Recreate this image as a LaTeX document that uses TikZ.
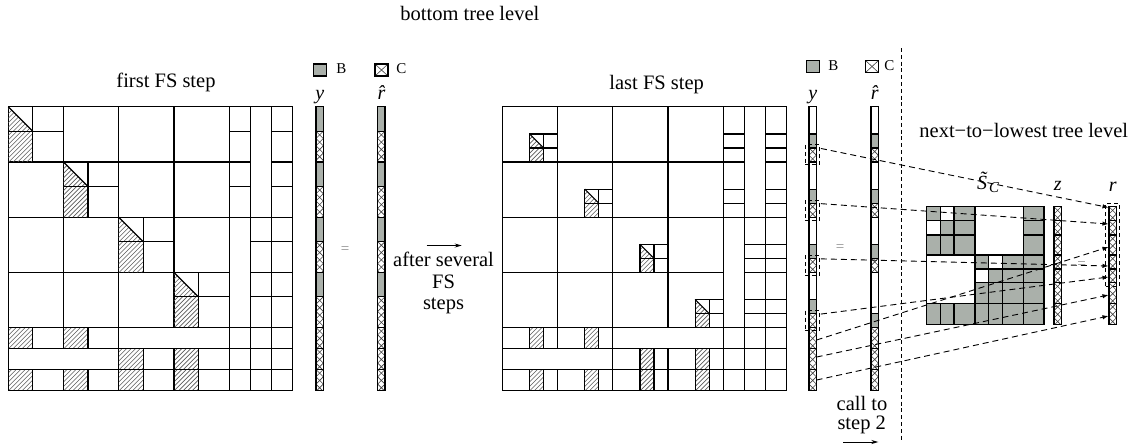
\documentclass[tikz,border=0pt]{standalone}
\usepackage{fontspec}
\setmainfont{Liberation Serif}
\usetikzlibrary{calc,arrows.meta}
\definecolor{bgray}{RGB}{170,176,170}
\tikzset{
  ml/.style={line width=0.6pt},
  hl/.style={line width=0.3pt, black!65},
  xl/.style={line width=0.3pt, black!75},
  dbox/.style={draw, dash pattern=on 2pt off 1.5pt, line width=0.45pt, inner sep=0pt, minimum width=7.25pt, minimum height=10pt},
  darr/.style={dash pattern=on 3pt off 2pt, line width=0.45pt, -{Latex[length=3pt,width=2.2pt]}},
  lbl/.style={inner sep=0pt, font=\fontsize{10.25}{12}\selectfont},
  mlbl/.style={inner sep=0pt, font=\fontsize{10}{12}\selectfont\itshape},
  lgd/.style={inner sep=0pt, font=\fontsize{7.5}{8}\selectfont},
  eqs/.style={inner sep=0pt, text=black!45, font=\fontsize{7.5}{8}\selectfont},
  plainarr/.style={line width=0.45pt, -{Stealth[length=3.5pt,width=2pt]}},
  vdash/.style={dash pattern=on 2pt off 1.4pt, line width=0.5pt},
}
\newcommand{\hatchbox}[4]{%
  \begin{scope}
    \clip ({#1},{#2}) rectangle ({#3},{#4});
    \foreach \hv in {0,4.5,...,81}
      \draw[hl] ({#1-40+\hv},{#4}) -- ++(40,-40);
  \end{scope}}
\newcommand{\hatchtri}[4]{%
  \begin{scope}
    \clip ({#1},{#2}) -- ({#3},{#4}) -- ({#1},{#4}) -- cycle;
    \foreach \hv in {0,4.5,...,81}
      \draw[hl] ({#1-40+\hv},{#4}) -- ++(40,-40);
  \end{scope}
  \draw[ml] ({#1},{#2}) -- ({#3},{#4});}
\newcommand{\vw}[3]{\draw[ml] ({#1},{#2}) rectangle ({#1+7.3},{#3});}
\newcommand{\vg}[3]{\filldraw[ml,fill=bgray] ({#1},{#2}) rectangle ({#1+7.3},{#3});}
\newcommand{\vx}[3]{%
  \begin{scope}
    \clip ({#1},{#2}) rectangle ({#1+7.3},{#3});
    \foreach \hv in {0,...,6}
      \draw[xl] ({#1},{#2+\hv*7.3}) -- ++(7.3,7.3) ({#1+7.3},{#2+\hv*7.3}) -- ++(-7.3,7.3);
  \end{scope}
  \draw[ml] ({#1},{#2}) rectangle ({#1+7.3},{#3});}
\newcommand{\leftvec}[1]{%
  \foreach \kk in {0,...,3}{
    \vg{#1}{106.7+\kk*55.2}{106.7+\kk*55.2+24.5}
    \vx{#1}{106.7+\kk*55.2+24.5}{106.7+(\kk+1)*55.2}
  }
  \foreach \kk in {0,1,2}{\vx{#1}{327.5+\kk*21}{327.5+(\kk+1)*21}}}
\newcommand{\sepvec}[1]{%
  \foreach \kk in {0,1,2}{\vx{#1}{327.5+\kk*21}{327.5+(\kk+1)*21}}}
\newcommand{\legC}[2]{%
  \draw[xl] ({#1},{#2}) -- ({#1+13},{#2+12}) ({#1+13},{#2}) -- ({#1},{#2+12});
  \draw[ml] ({#1},{#2}) rectangle ({#1+13},{#2+12});}
\def\bs{55.2}
\def\ss{21}
\def\bb{24.5}
\begin{document}
\begin{tikzpicture}[x=0.5pt,y=-0.5pt]
\useasboundingbox (0,0) rectangle (1139,446);

%% ---------------- left matrix (first FS step)
\begin{scope}[shift={(8.3,106.7)}]
  \foreach \ii in {0,...,3} \foreach \jj in {0,...,3}
    \draw[ml] ({\jj*\bs},{\ii*\bs}) rectangle ++(\bs,\bs);
  \foreach \kk in {0,...,3}{
    \hatchtri{\kk*\bs}{\kk*\bs}{\kk*\bs+\bb}{\kk*\bs+\bb}
    \hatchbox{\kk*\bs}{\kk*\bs+\bb}{\kk*\bs+\bb}{(\kk+1)*\bs}
    \draw[ml] ({\kk*\bs+\bb},{\kk*\bs}) -- ++(0,\bs);
    \draw[ml] ({\kk*\bs},{\kk*\bs+\bb}) -- ++(\bs,0);
  }
  \foreach \cc/\ii in {0/0,0/1,1/2,1/3,2/0,2/1,2/2,2/3}{
    \draw[ml] ({4*\bs+\cc*\ss},{\ii*\bs}) rectangle ++(\ss,\bb);
    \draw[ml] ({4*\bs+\cc*\ss},{\ii*\bs+\bb}) rectangle ({4*\bs+(\cc+1)*\ss},{(\ii+1)*\bs});
  }
  \draw[ml] ({4*\bs},{2*\bs}) rectangle ++(\ss,{2*\bs});
  \draw[ml] ({4*\bs+\ss},0) rectangle ++(\ss,{2*\bs});
  \foreach \rr/\jj in {0/0,0/1,1/2,1/3,2/0,2/1,2/2,2/3}{
    \hatchbox{\jj*\bs}{4*\bs+\rr*\ss}{\jj*\bs+\bb}{4*\bs+(\rr+1)*\ss}
    \draw[ml] ({\jj*\bs},{4*\bs+\rr*\ss}) rectangle ++(\bb,\ss);
    \draw[ml] ({\jj*\bs+\bb},{4*\bs+\rr*\ss}) rectangle ({(\jj+1)*\bs},{4*\bs+(\rr+1)*\ss});
  }
  \draw[ml] ({2*\bs},{4*\bs}) rectangle ++({2*\bs},\ss);
  \draw[ml] (0,{4*\bs+\ss}) rectangle ++({2*\bs},\ss);
  \foreach \rr in {0,1,2} \foreach \cc in {0,1,2}
    \draw[ml] ({4*\bs+\cc*\ss},{4*\bs+\rr*\ss}) rectangle ++(\ss,\ss);
\end{scope}

%% ---------------- middle matrix (last FS step)
\begin{scope}[shift={(502.3,106.7)}]
  \foreach \ii in {0,...,3} \foreach \jj in {0,...,3}
    \draw[ml] ({\jj*\bs},{\ii*\bs}) rectangle ++(\bs,\bs);
  \foreach \kk in {0,...,3}{
    \hatchtri{(\kk+1)*\bs-28}{(\kk+1)*\bs-28}{(\kk+1)*\bs-14}{(\kk+1)*\bs-14}
    \hatchbox{(\kk+1)*\bs-28}{(\kk+1)*\bs-14}{(\kk+1)*\bs-14}{(\kk+1)*\bs}
    \draw[ml] ({(\kk+1)*\bs-28},{(\kk+1)*\bs-28}) rectangle ({(\kk+1)*\bs},{(\kk+1)*\bs});
    \draw[ml] ({(\kk+1)*\bs-14},{(\kk+1)*\bs-28}) -- ++(0,28);
    \draw[ml] ({(\kk+1)*\bs-28},{(\kk+1)*\bs-14}) -- ++(28,0);
  }
  \foreach \cc/\ii in {0/0,0/1,1/2,1/3,2/0,2/1,2/2,2/3}{
    \draw[ml] ({4*\bs+\cc*\ss},{\ii*\bs}) rectangle ({4*\bs+(\cc+1)*\ss},{(\ii+1)*\bs-28});
    \draw[ml] ({4*\bs+\cc*\ss},{(\ii+1)*\bs-28}) rectangle ++(\ss,14);
    \draw[ml] ({4*\bs+\cc*\ss},{(\ii+1)*\bs-14}) rectangle ++(\ss,14);
  }
  \draw[ml] ({4*\bs},{2*\bs}) rectangle ++(\ss,{2*\bs});
  \draw[ml] ({4*\bs+\ss},0) rectangle ++(\ss,{2*\bs});
  \foreach \rr/\jj in {0/0,0/1,1/2,1/3,2/0,2/1,2/2,2/3}{
    \hatchbox{(\jj+1)*\bs-28}{4*\bs+\rr*\ss}{(\jj+1)*\bs-14}{4*\bs+(\rr+1)*\ss}
    \draw[ml] ({\jj*\bs},{4*\bs+\rr*\ss}) rectangle ({(\jj+1)*\bs-28},{4*\bs+(\rr+1)*\ss});
    \draw[ml] ({(\jj+1)*\bs-28},{4*\bs+\rr*\ss}) rectangle ++(14,\ss);
    \draw[ml] ({(\jj+1)*\bs-14},{4*\bs+\rr*\ss}) rectangle ++(14,\ss);
  }
  \draw[ml] ({2*\bs},{4*\bs}) rectangle ++({2*\bs},\ss);
  \draw[ml] (0,{4*\bs+\ss}) rectangle ++({2*\bs},\ss);
  \foreach \rr in {0,1,2} \foreach \cc in {0,1,2}
    \draw[ml] ({4*\bs+\cc*\ss},{4*\bs+\rr*\ss}) rectangle ++(\ss,\ss);
\end{scope}

%% ---------------- left vectors
\leftvec{316}
\leftvec{377.7}

%% ---------------- middle vectors
\foreach \kk in {0,...,3}{
  \pgfmathsetmacro\yb{106.7+(\kk+1)*55.2}
  \vw{809}{\yb-55.2}{\yb-28}
  \vg{809}{\yb-28}{\yb-14}
  \vx{809}{\yb-14}{\yb}
}
\sepvec{809}
\foreach \kk in {0,...,2}{
  \pgfmathsetmacro\yb{106.7+(\kk+1)*55.2}
  \vw{871}{\yb-55.2}{\yb-28}
  \vg{871}{\yb-28}{\yb-14}
  \vx{871}{\yb-14}{\yb}
}
\vw{871}{272.3}{313.5}
\vg{871}{313.5}{327.5}
\sepvec{871}

%% ---------------- S_C matrix
\def\sxs{{926.7,940.7,954,975,988.3,1002.3,1023.3,1044}}
\def\sys{{206.7,220.7,235,255,269,282.7,303.3,324.3}}
\foreach \rr/\cc in {0/0,0/2,0/6,1/1,1/2,1/6,2/0,2/1,2/2,2/6,3/3,3/5,3/6,4/4,4/5,4/6,5/3,5/4,5/5,5/6,6/0,6/1,6/2,6/3,6/4,6/5,6/6}{
  \pgfmathsetmacro\xa{\sxs[\cc]}
  \pgfmathsetmacro\xb{\sxs[\cc+1]}
  \pgfmathsetmacro\ya{\sys[\rr]}
  \pgfmathsetmacro\yc{\sys[\rr+1]}
  \filldraw[ml,fill=bgray] (\xa,\ya) rectangle (\xb,\yc);
}
\foreach \rr/\cc in {0/1,1/0,3/4,4/3}{
  \pgfmathsetmacro\xa{\sxs[\cc]}
  \pgfmathsetmacro\xb{\sxs[\cc+1]}
  \pgfmathsetmacro\ya{\sys[\rr]}
  \pgfmathsetmacro\yc{\sys[\rr+1]}
  \draw[ml] (\xa,\ya) rectangle (\xb,\yc);
}
\draw[ml] (975,206.7) rectangle (1023.3,255);
\draw[ml] (926.7,255) rectangle (975,303.3);

%% z and r vectors
\foreach \rr in {0,...,6}{
  \pgfmathsetmacro\ya{\sys[\rr]}
  \pgfmathsetmacro\yc{\sys[\rr+1]}
  \vx{1054}{\ya}{\yc}
  \vx{1109}{\ya}{\yc}
}

%% ---------------- dashed boxes and arrows
\node[dbox] (yc1) at (812.2,154.9) {};
\node[dbox] (yc2) at (812.2,210.1) {};
\node[dbox] (yc3) at (812.2,265.3) {};
\node[dbox] (yc4) at (812.2,320.5) {};
\node[dbox, minimum width=6.8pt, minimum height=41.35pt] (rbox) at (1112.5,244.6) {};
\coordinate (ys1) at (816.6,340);
\coordinate (ys2) at (816.6,357);
\coordinate (ys3) at (816.6,380);
\coordinate (r0) at (1108.5,207.5);
\coordinate (r1) at (1108.5,224);
\coordinate (r2) at (1108.5,247);
\coordinate (r3) at (1108.5,266);
\coordinate (r4) at (1108.5,277);
\coordinate (r5) at (1108.5,295);
\coordinate (r6) at (1108.5,316);
\draw[darr] ($(yc1.north east)+(1,4)$) -- (r0);
\draw[darr] ($(yc2.north east)+(1,4)$) -- (r1);
\draw[darr] ($(yc3.north east)+(1,4)$) -- (r3);
\draw[darr] ($(yc4.north east)+(1,4)$) -- (r4);
\draw[darr] (ys1) -- (r2);
\draw[darr] (ys2) -- (r5);
\draw[darr] (ys3) -- (r6);

%% vertical dashed separator
\coordinate (v1) at (901.7,48);
\coordinate (v2) at (901.7,440);
\draw[vdash] (v1) -- (v2);

%% ---------------- legends
\filldraw[ml,fill=bgray] (313.5,64) rectangle (326.5,76);
\legC{375}{64}
\node[lgd, anchor=base west] (lgB1) at (336,73.8) {B};
\node[lgd, anchor=base west] (lgC1) at (396,73.8) {C};
\filldraw[ml,fill=bgray] (806.7,60.5) rectangle (819.7,72.5);
\legC{865.5}{60.5}
\node[lgd, anchor=base west] (lgB2) at (828,70.3) {B};
\node[lgd, anchor=base west] (lgC2) at (884,70.3) {C};

%% ---------------- labels
\node[lbl, anchor=base west] (top) at (400,20.7) {bottom tree level};
\node[lbl, anchor=base] (fst) at (166,87) {first FS step};
\node[lbl, anchor=base] (lst) at (656.7,89) {last FS step};
\node[mlbl, anchor=base] (ly1) at (319.7,99) {y};
\node[mlbl, anchor=base] (lr1) at (381.4,99) {\^r};
\node[mlbl, anchor=base] (ly2) at (812.7,99) {y};
\node[mlbl, anchor=base] (lr2) at (874.7,99) {\^r};
\node[eqs] (eq1) at (345,250) {=};
\node[eqs] (eq2) at (840,248) {=};
\node[eqs] (eq3) at (1081.7,265) {=};
\node[lbl, anchor=base west] (ntl) at (919,137) {next−to−lowest tree level};
\node[mlbl, anchor=base] (lsc) at (988,189) {\~S\kern1pt\raisebox{-1.5pt}{\fontsize{7.5}{8}\selectfont C}};
\node[mlbl, anchor=base] (lz) at (1057.7,190) {z};
\node[mlbl, anchor=base] (lr) at (1112.7,191) {r};

\coordinate (a1) at (426.7,245.5);
\coordinate (a2) at (461.7,245.5);
\draw[plainarr] (a1) -- (a2);
\node[lbl, anchor=base] (as1) at (443.5,266.5) {after several};
\node[lbl, anchor=base] (as2) at (443.5,288) {FS};
\node[lbl, anchor=base] (as3) at (443.5,309) {steps};

\node[lbl, anchor=base] (cs1) at (862,410) {call to};
\node[lbl, anchor=base] (cs2) at (861.7,429.5) {step 2};
\coordinate (b1) at (843.3,442);
\coordinate (b2) at (878.3,442);
\draw[plainarr] (b1) -- (b2);
\end{tikzpicture}
\end{document}
